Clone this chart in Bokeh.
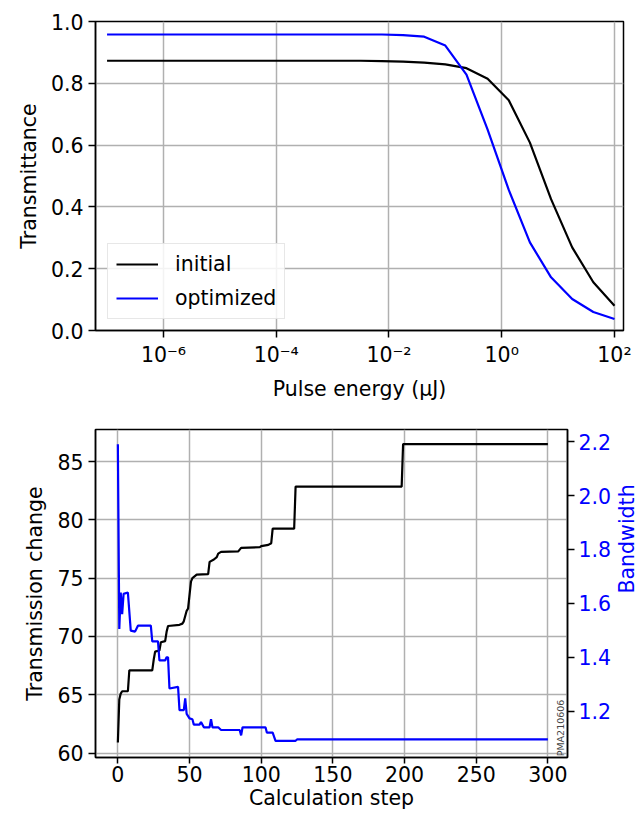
import math
from bokeh.plotting import figure
from bokeh.layouts import column
from bokeh.models import (Range1d, LinearAxis, FixedTicker, PrintfTickFormatter,
                          CustomJSTickFormatter, Label, Legend, LegendItem)
from bokeh.embed import file_html
from bokeh.resources import INLINE

# ---------------- data: panel (a) ----------------
pulse_energy = [1.0e-7, 2.371e-7, 5.623e-7, 1.334e-6, 3.162e-6, 7.499e-6, 1.778e-5,
                4.217e-5, 1.0e-4, 2.371e-4, 5.623e-4, 1.334e-3, 3.162e-3, 7.499e-3,
                1.778e-2, 4.217e-2, 0.1, 0.2371, 0.5623, 1.334, 3.162, 7.499,
                17.78, 42.17, 100.0]
trans_initial = [0.873, 0.873, 0.873, 0.873, 0.873, 0.873, 0.873, 0.873, 0.873,
                 0.873, 0.873, 0.873, 0.873, 0.872, 0.870, 0.867, 0.861, 0.849,
                 0.815, 0.745, 0.608, 0.425, 0.269, 0.156, 0.080]
trans_optimized = [0.958, 0.958, 0.958, 0.958, 0.958, 0.958, 0.958, 0.958, 0.958,
                   0.958, 0.958, 0.958, 0.958, 0.958, 0.956, 0.951, 0.922, 0.828,
                   0.650, 0.455, 0.285, 0.172, 0.102, 0.060, 0.037]
x_ticks_a = [1e-6, 1e-4, 1e-2, 1.0, 1e2]
y_ticks_a = [0.0, 0.2, 0.4, 0.6, 0.8, 1.0]

# ---------------- data: panel (b) ----------------
steps_tc = [0, 1, 2, 3, 7, 8, 24, 25, 26, 29, 30, 33, 34, 35, 43, 45, 46, 48, 49,
            51, 52, 55, 63, 64, 67, 69, 70, 72, 84, 86, 99, 100, 105, 107, 108,
            123, 124, 198, 199, 300]
trans_change = [60.9, 64.6, 65.1, 65.3, 65.3, 67.1, 67.1, 68.0, 68.7, 68.8, 69.5,
                69.6, 70.4, 70.9, 71.0, 71.1, 71.3, 72.2, 72.4, 74.7, 75.0, 75.3,
                75.35, 76.4, 76.6, 76.8, 77.1, 77.25, 77.3, 77.6, 77.65, 77.75,
                77.85, 78.0, 79.25, 79.25, 82.85, 82.85, 86.5, 86.5]
steps_bw = [0, 1, 2, 3, 4, 7, 9, 12, 14, 23, 24, 28, 29, 33, 34, 35, 36, 42, 43,
            46, 47, 48, 50, 52, 53, 57, 58, 60, 64, 65, 66, 70, 72, 85, 86, 87,
            103, 104, 108, 110, 124, 125, 300]
bandwidth = [2.19, 1.505, 1.64, 1.56, 1.635, 1.64, 1.499, 1.495, 1.517, 1.517,
             1.459, 1.459, 1.388, 1.388, 1.40, 1.40, 1.284, 1.29, 1.204, 1.204,
             1.247, 1.19, 1.173, 1.17, 1.15, 1.15, 1.16, 1.14, 1.14, 1.17, 1.14,
             1.14, 1.13, 1.13, 1.11, 1.14, 1.14, 1.12, 1.12, 1.09, 1.09, 1.095,
             1.095]
x_ticks_b = [0, 50, 100, 150, 200, 250, 300]
y_ticks_b = [60, 65, 70, 75, 80, 85]
y2_ticks_b = [1.2, 1.4, 1.6, 1.8, 2.0, 2.2]

FONT = "DejaVu Sans"
FS = "20.5px"
GRID = "#b0b0b0"


def style_axis(ax):
    ax.major_label_text_font = FONT
    ax.major_label_text_font_size = FS
    ax.major_label_text_color = "black"
    ax.axis_label_text_font = FONT
    ax.axis_label_text_font_size = FS
    ax.axis_label_text_font_style = "normal"
    ax.axis_label_text_color = "black"
    ax.major_tick_out = 7
    ax.major_tick_in = 0
    ax.major_tick_line_width = 1.5
    ax.minor_tick_line_color = None
    ax.axis_line_width = 1.5
    ax.major_label_standoff = 5
    ax.axis_label_standoff = 7


# ---------------- panel (a) ----------------
pa = figure(x_axis_type="log", output_backend="svg", toolbar_location=None,
            frame_width=528, frame_height=309,
            min_border_left=95, min_border_right=19, min_border_top=21,
            min_border_bottom=72,
            x_range=Range1d(10 ** -7.205, 10 ** 2.16), y_range=Range1d(0.0, 1.0))
pa.background_fill_color = "white"
pa.border_fill_color = "white"
pa.outline_line_color = "black"
pa.outline_line_width = 1.5

la = pa.line(pulse_energy, trans_initial, line_color="black", line_width=2.2)
lb = pa.line(pulse_energy, trans_optimized, line_color="blue", line_width=2.2)

pa.xaxis.ticker = FixedTicker(ticks=x_ticks_a)
pa.xaxis.formatter = CustomJSTickFormatter(code="""
const sup = {'-': '\u207b', '0': '\u2070', '1': '\u00b9', '2': '\u00b2', '3': '\u00b3',
             '4': '\u2074', '5': '\u2075', '6': '\u2076', '7': '\u2077', '8': '\u2078', '9': '\u2079'};
const e = Math.round(Math.log10(tick));
return '10' + String(e).split('').map(c => sup[c]).join('');
""")
pa.yaxis.ticker = FixedTicker(ticks=y_ticks_a)
pa.yaxis.formatter = PrintfTickFormatter(format="%.1f")
pa.xaxis.axis_label = "Pulse energy (\u03bcJ)"
pa.yaxis.axis_label = "Transmittance"
for ax in pa.xaxis + pa.yaxis:
    style_axis(ax)
pa.grid.grid_line_color = GRID
pa.grid.grid_line_width = 1.5

legend = Legend(items=[LegendItem(label="initial", renderers=[la]),
                       LegendItem(label="optimized", renderers=[lb])],
                location=(12, 11))
legend.label_text_font = FONT
legend.label_text_font_size = FS
legend.label_text_color = "black"
legend.glyph_width = 42
legend.glyph_height = 22
legend.label_height = 22
legend.label_standoff = 17
legend.padding = 8
legend.spacing = 10
legend.margin = 0
legend.border_line_color = "#d0d0d0"
legend.border_line_width = 1.2
legend.background_fill_color = "white"
legend.background_fill_alpha = 0.85
pa.add_layout(legend, "center")

pa.add_layout(Label(x=10 ** -8.62, y=0.993, text="(a)", text_font=FONT,
                    text_font_size=FS, text_baseline="middle", text_align="left"))
pa.add_layout(Label(x=10 ** 2.29, y=0.005, text="PMA220632", text_font=FONT,
                    text_font_size="9.5px", angle=math.pi / 2,
                    text_align="left", text_baseline="middle"))

# ---------------- panel (b) ----------------
pb = figure(output_backend="svg", toolbar_location=None,
            frame_width=472, frame_height=328,
            min_border_left=93, min_border_right=74, min_border_top=26,
            min_border_bottom=50,
            x_range=Range1d(-15.6, 313.7), y_range=Range1d(59.62, 87.75))
pb.background_fill_color = "white"
pb.border_fill_color = "white"
pb.outline_line_color = "black"
pb.outline_line_width = 1.5
pb.extra_y_ranges = {"bw": Range1d(1.028, 2.245)}

pb.line(steps_tc, trans_change, line_color="black", line_width=2.2)
pb.line(steps_bw, bandwidth, line_color="blue", line_width=2.2, y_range_name="bw")

pb.xaxis.ticker = FixedTicker(ticks=x_ticks_b)
pb.xaxis.formatter = PrintfTickFormatter(format="%d")
pb.yaxis.ticker = FixedTicker(ticks=y_ticks_b)
pb.yaxis.formatter = PrintfTickFormatter(format="%d")
pb.xaxis.axis_label = "Calculation step"
pb.yaxis.axis_label = "Transmission change"

ax2 = LinearAxis(y_range_name="bw", ticker=FixedTicker(ticks=y2_ticks_b),
                 formatter=PrintfTickFormatter(format="%.1f"),
                 axis_label="Bandwidth")
pb.add_layout(ax2, "right")
for ax in pb.xaxis + pb.yaxis:
    style_axis(ax)
pb.xaxis.major_tick_out = 6
pb.xaxis.major_label_standoff = 2
pb.xaxis.axis_label_standoff = 1
ax2.major_label_text_color = "blue"
ax2.axis_label_text_color = "blue"
ax2.major_label_standoff = 4
ax2.axis_label_standoff = 13
ax2.axis_label_orientation = math.pi / 2
pb.grid.grid_line_color = GRID
pb.grid.grid_line_width = 1.5

pb.add_layout(Label(x=-70.2, y=88.84, text="(b)", text_font=FONT,
                    text_font_size=FS, text_baseline="middle", text_align="left"))
pb.add_layout(Label(x=308.6, y=59.72, text="PMA210606", text_font=FONT,
                    text_font_size="9.5px", angle=math.pi / 2,
                    text_align="left", text_baseline="middle"))

layout = column(pa, pb, spacing=0)
open("out.html", "w").write(file_html(layout, INLINE))
